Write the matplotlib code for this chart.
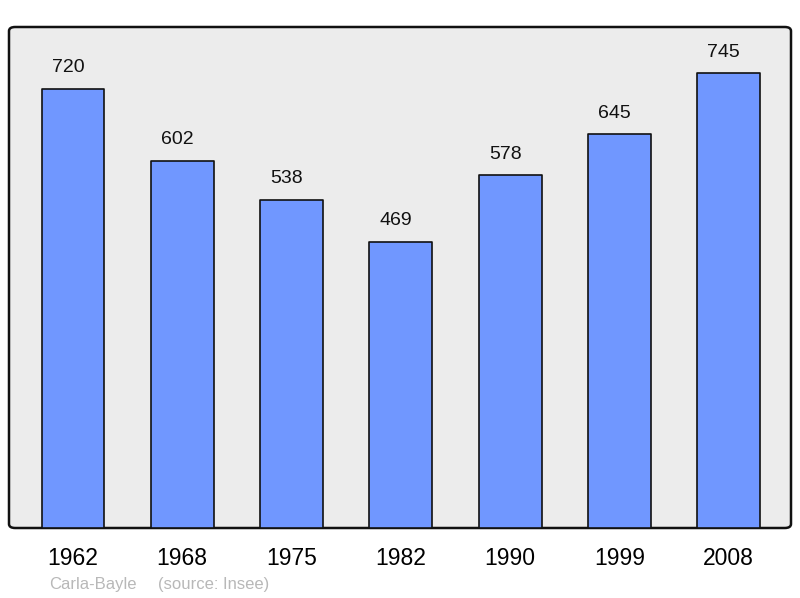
import matplotlib
matplotlib.use("Agg")
import matplotlib.pyplot as plt
from matplotlib.patches import FancyBboxPatch

years = ["1962", "1968", "1975", "1982", "1990", "1999", "2008"]
population = [720, 602, 538, 469, 578, 645, 745]

plt.rcParams['font.family'] = ['Liberation Sans', 'DejaVu Sans']

fig = plt.figure(figsize=(8, 5.98), dpi=100)
ax = fig.add_axes([9/800, 1 - 528/598, 782/800, 501/598])
ax.set_facecolor('none')

# rounded background frame
frame = FancyBboxPatch((0, 0), 1, 1, boxstyle="round,pad=0,rounding_size=0.008",
                       transform=ax.transAxes, facecolor='#ececec', edgecolor='#111111',
                       linewidth=1.8, zorder=0, clip_on=False)
ax.add_patch(frame)

x = list(range(len(years)))
bars = ax.bar(x, population, width=0.575, color='#7097ff', edgecolor='#111111',
              linewidth=1.2, zorder=2)
for b in bars:
    b.set_joinstyle('round')

for xi, v in zip(x, population):
    ax.annotate(str(v), (xi, v), xytext=(-3.5, 9), textcoords='offset points',
                ha='center', va='bottom', fontsize=14, color='#111111')

ax.set_xlim(-0.585, 6.57)
ax.set_ylim(0, 821)
ax.set_xticks(x)
ax.set_xticklabels(years, fontsize=16.5)
ax.tick_params(axis='x', length=0, pad=13.5)
ax.set_yticks([])
for s in ax.spines.values():
    s.set_visible(False)

fig.text(49/800, 1 - 584/598, "Carla-Bayle", fontsize=12, color='#b8b8b8', va='center', ha='left')
fig.text(158/800, 1 - 584/598, "(source: Insee)", fontsize=12, color='#b8b8b8', va='center', ha='left')

fig.savefig("out.png", dpi=100)
